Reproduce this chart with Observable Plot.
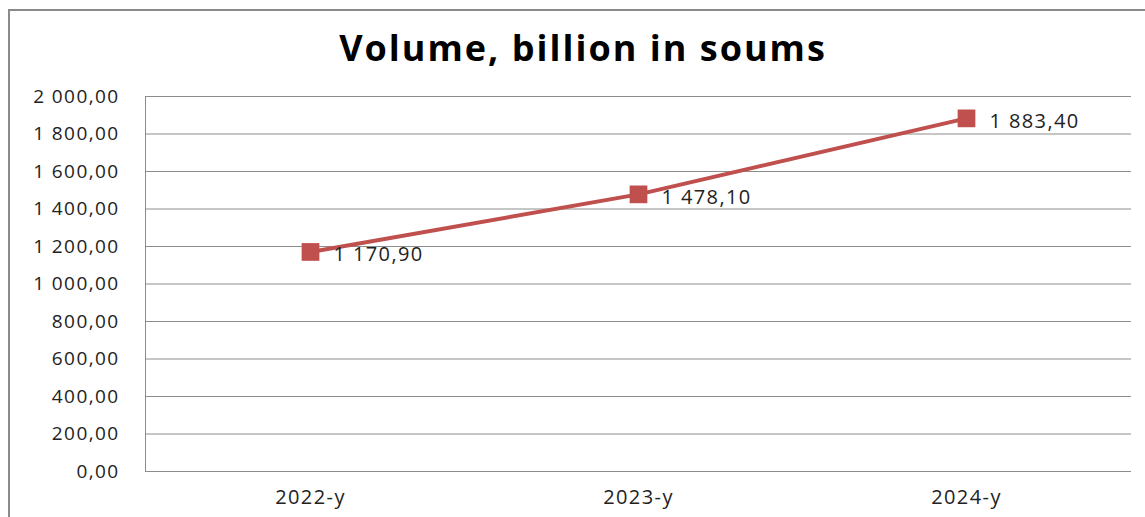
<!DOCTYPE html>
<html>
<head>
<meta charset="utf-8">
<script src="https://cdn.jsdelivr.net/npm/d3@7"></script>
<script src="https://cdn.jsdelivr.net/npm/@observablehq/plot@0.6"></script>
<style>
  html, body { margin: 0; padding: 0; background: #fff; width: 1145px; height: 517px; overflow: hidden; }
  #frame { position: absolute; left: 8px; top: 9px; width: 1300px; height: 700px; border: 2px solid #8a8a8a; box-sizing: border-box; }
  #title { position: absolute; left: 0; top: 24px; width: 1166px; text-align: center; font-family: "Open Sans", sans-serif; font-weight: bold; font-size: 36px; letter-spacing: 2px; color: #000; line-height: 48px; }
  #chart { position: absolute; left: 0; top: 80px; }
  #chart svg text { letter-spacing: 1.4px; }
</style>
</head>
<body>
<div id="frame"></div>
<div id="title">Volume, billion in soums</div>
<div id="chart"></div>
<script>
const years = ["2022-y", "2023-y", "2024-y"];
const volumes = [1170.90, 1478.10, 1883.40];
const yTicks = [0, 200, 400, 600, 800, 1000, 1200, 1400, 1600, 1800, 2000];

const locale = d3.formatLocale({ decimal: ",", thousands: "\u00a0", grouping: [3], currency: ["", ""] });
const fmt = locale.format(",.2f");

const data = years.map((y, i) => ({ year: y, value: volumes[i] }));

const plot = Plot.plot({
  width: 1145,
  height: 437,
  marginLeft: 145,
  marginRight: 14,
  marginTop: 16,
  marginBottom: 46,
  style: { fontFamily: "'Open Sans', sans-serif", fontSize: "19px", color: "#222", background: "transparent" },
  x: { type: "point", domain: years, padding: 0.5, label: null },
  y: { domain: [0, 2000], ticks: yTicks, label: null, tickFormat: fmt },
  marks: [
    Plot.gridY(yTicks, { stroke: "#8c8c8c", strokeOpacity: 1, strokeWidth: 1 }),
    Plot.axisY(yTicks, { tickSize: 0, tickPadding: 26, tickFormat: fmt, fill: "#222", fontSize: 19 }),
    Plot.axisX({ tickSize: 0, tickPadding: 18, fill: "#222", fontSize: 20 }),
    Plot.frame({ anchor: "left", stroke: "#8c8c8c" }),
    Plot.ruleY([0], { stroke: "#8c8c8c" }),
    Plot.line(data, { x: "year", y: "value", stroke: "#C0504D", strokeWidth: 4 }),
    Plot.dot(data, { x: "year", y: "value", symbol: "square", r: 10, fill: "#C0504D", stroke: "none" }),
    Plot.text(data, { x: "year", y: "value", text: d => fmt(d.value), textAnchor: "start", dx: 23, dy: 3, fontSize: 20, fill: "#222" })
  ]
});
document.getElementById("chart").appendChild(plot);
</script>
</body>
</html>
